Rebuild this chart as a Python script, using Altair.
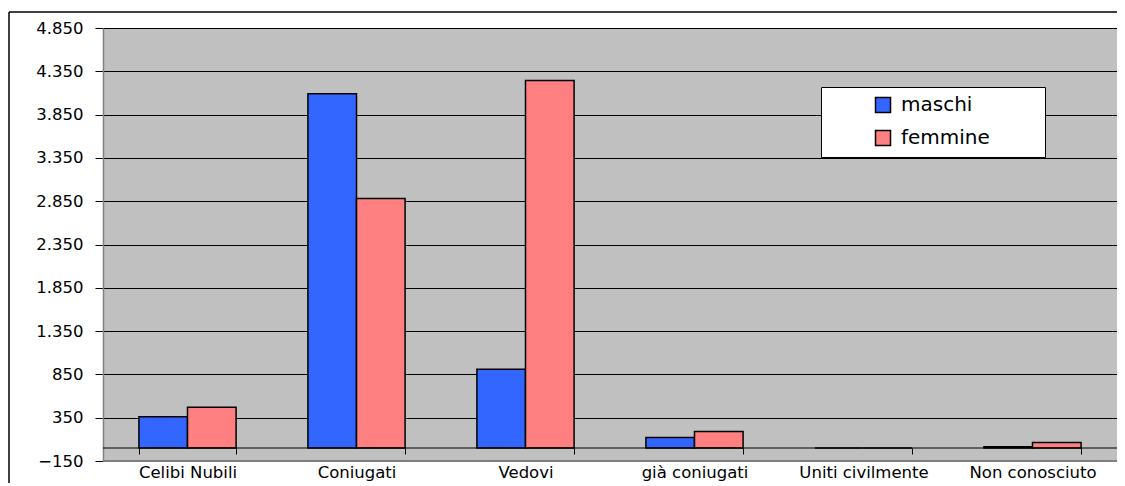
import altair as alt
import pandas as pd

categories = ["Celibi Nubili", "Coniugati", "Vedovi", "già coniugati", "Uniti civilmente", "Non conosciuto"]
series = ["maschi", "femmine"]
maschi = [362, 4090, 910, 122, 0, 15]
femmine = [470, 2880, 4245, 192, 0, 65]
y_ticks = [-150, 350, 850, 1350, 1850, 2350, 2850, 3350, 3850, 4350, 4850]
colors = ["#3366FF", "#FF8080"]

rows = []
for c, m, f in zip(categories, maschi, femmine):
    rows.append({"cat": c, "sesso": "maschi", "valore": m})
    rows.append({"cat": c, "sesso": "femmine", "valore": f})
df = pd.DataFrame(rows)

W, H = 1014, 433
FONT = "DejaVu Sans"

yscale = alt.Scale(domain=[-150, 4850], nice=False, zero=False)

one = pd.DataFrame({"a": [0]})
frame_top = alt.Chart(one).mark_rule(color="black", strokeWidth=1.5, clip=False).encode(
    x=alt.value(-94), x2=alt.value(W + 40), y=alt.value(-16)
)
frame_left = alt.Chart(one).mark_rule(color="black", strokeWidth=1.5, clip=False).encode(
    x=alt.value(-94), y=alt.value(-16), y2=alt.value(H + 40)
)

bars = alt.Chart(df).mark_bar(stroke="black", strokeWidth=1.5).encode(
    x=alt.X(
        "cat:N", sort=categories,
        scale=alt.Scale(paddingInner=0.425, paddingOuter=0.2125),
        axis=alt.Axis(
            title=None, labelAngle=0, tickBand="extent", offset=-13, domain=False,
            tickSize=6, tickColor="black", labelPadding=10, labelFont=FONT,
            labelFontSize=16.5, labelColor="black", grid=False, labelLimit=300,
        ),
    ),
    xOffset=alt.XOffset("sesso:N", sort=series, scale=alt.Scale(paddingInner=0, paddingOuter=0)),
    y=alt.Y(
        "valore:Q", scale=yscale,
        axis=alt.Axis(
            title=None, values=y_ticks, grid=True, gridColor="black", gridWidth=1,
            gridOpacity=1, tickSize=8, tickColor="black", labelPadding=12,
            labelFont=FONT, labelFontSize=16.5, labelColor="black",
            domainColor="#808080", domainWidth=1.5,
            labelExpr="replace(format(datum.value, ','), ',', '.')",
        ),
    ),
    color=alt.Color(
        "sesso:N", sort=series,
        scale=alt.Scale(domain=series, range=colors),
        legend=alt.Legend(
            title="x", titleOrient="right", titleOpacity=0, titleFontSize=2,
            titlePadding=45,
            orient="none", legendX=718, legendY=59,
            fillColor="white", strokeColor="black", padding=8,
            symbolType="square", symbolSize=225, symbolStrokeColor="black",
            symbolStrokeWidth=1.5, symbolOffset=44, labelOffset=8,
            labelFont=FONT, labelFontSize=20, labelColor="black", rowPadding=11,
        ),
    ),
)

zero = alt.Chart(pd.DataFrame({"z": [0]})).mark_rule(color="black", strokeWidth=1.2).encode(
    y=alt.Y("z:Q", scale=yscale)
)
bottom = alt.Chart(pd.DataFrame({"z": [-150]})).mark_rule(color="#808080", strokeWidth=2).encode(
    y=alt.Y("z:Q", scale=yscale)
)

chart = alt.layer(frame_top, frame_left, bars, zero, bottom).properties(
    width=W, height=H,
    autosize=alt.AutoSizeParams(type="none"),
    padding={"left": 95, "top": 20, "right": 0, "bottom": 22},
    background="white",
).configure_view(fill="#C0C0C0", strokeWidth=0)

chart.save("out.html", embed_options={"renderer": "svg", "actions": False})
